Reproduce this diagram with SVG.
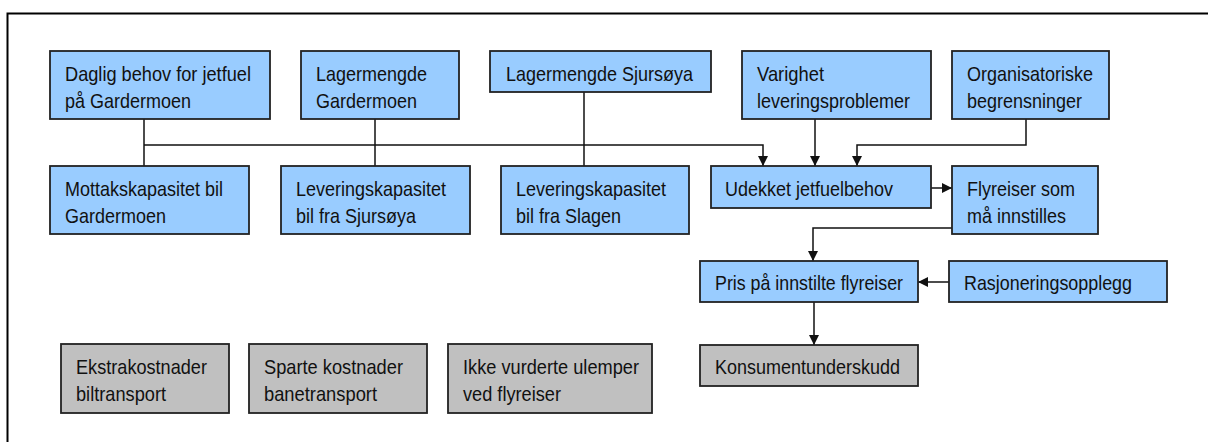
<svg xmlns="http://www.w3.org/2000/svg" width="1208" height="442" viewBox="0 0 1208 442">
<defs>
<style>
.b{fill:#99CCFF;stroke:#222;stroke-width:1.8}
.g{fill:#C0C0C0;stroke:#222;stroke-width:1.8}
text{font-family:"Liberation Sans Narrow","Liberation Sans",Arial,sans-serif;font-size:21px;fill:#111}
.c{fill:none;stroke:#111;stroke-width:1.5}
.a{marker-end:url(#ah)}
</style>
<marker id="ah" markerUnits="userSpaceOnUse" markerWidth="10" markerHeight="10" refX="10" refY="5" orient="auto">
<path d="M0,0 L10,5 L0,10 z" fill="#111"/>
</marker>
</defs>
<rect width="1208" height="442" fill="#fff"/>
<path d="M7.5,442 V13.5 H1208" fill="none" stroke="#000" stroke-width="2"/>
<g id="connectors">
<path class="c" d="M144,119 V166"/>
<path class="c a" d="M144,145 H763 V166"/>
<path class="c" d="M375,119 V166"/>
<path class="c" d="M584,92 V166"/>
<path class="c a" d="M815,119 V166"/>
<path class="c a" d="M1026,119 V145 H857 V166"/>
<path class="c a" d="M931,188 H952"/>
<path class="c a" d="M952,228 H813 V261"/>
<path class="c a" d="M949,282 H918"/>
<path class="c a" d="M814,302 V345"/>
</g>
<g id="n1"><rect class="b" x="50" y="51" width="220" height="68"/><text x="65" y="81" textLength="186" lengthAdjust="spacingAndGlyphs">Daglig behov for jetfuel</text><text x="65" y="108" textLength="126" lengthAdjust="spacingAndGlyphs">på Gardermoen</text></g>
<g id="n2"><rect class="b" x="301" y="51" width="158" height="68"/><text x="316" y="81" textLength="111" lengthAdjust="spacingAndGlyphs">Lagermengde</text><text x="316" y="108" textLength="101" lengthAdjust="spacingAndGlyphs">Gardermoen</text></g>
<g id="n3"><rect class="b" x="490" y="51" width="221" height="41"/><text x="506" y="81" textLength="187" lengthAdjust="spacingAndGlyphs">Lagermengde Sjursøya</text></g>
<g id="n4"><rect class="b" x="742" y="51" width="189" height="68"/><text x="757" y="81" textLength="67" lengthAdjust="spacingAndGlyphs">Varighet</text><text x="757" y="108" textLength="153" lengthAdjust="spacingAndGlyphs">leveringsproblemer</text></g>
<g id="n5"><rect class="b" x="952" y="51" width="157" height="68"/><text x="967" y="81" textLength="126" lengthAdjust="spacingAndGlyphs">Organisatoriske</text><text x="967" y="108" textLength="115" lengthAdjust="spacingAndGlyphs">begrensninger</text></g>
<g id="n6"><rect class="b" x="50" y="166" width="199" height="68"/><text x="65" y="196" textLength="158" lengthAdjust="spacingAndGlyphs">Mottakskapasitet bil</text><text x="65" y="223" textLength="101" lengthAdjust="spacingAndGlyphs">Gardermoen</text></g>
<g id="n7"><rect class="b" x="281" y="166" width="189" height="68"/><text x="296" y="196" textLength="150" lengthAdjust="spacingAndGlyphs">Leveringskapasitet</text><text x="296" y="223" textLength="120" lengthAdjust="spacingAndGlyphs">bil fra Sjursøya</text></g>
<g id="n8"><rect class="b" x="501" y="166" width="188" height="68"/><text x="516" y="196" textLength="150" lengthAdjust="spacingAndGlyphs">Leveringskapasitet</text><text x="516" y="223" textLength="105" lengthAdjust="spacingAndGlyphs">bil fra Slagen</text></g>
<g id="n9"><rect class="b" x="711" y="166" width="220" height="42"/><text x="725" y="196" textLength="168" lengthAdjust="spacingAndGlyphs">Udekket jetfuelbehov</text></g>
<g id="n10"><rect class="b" x="952" y="166" width="146" height="68"/><text x="967" y="196" textLength="108" lengthAdjust="spacingAndGlyphs">Flyreiser som</text><text x="967" y="223" textLength="99" lengthAdjust="spacingAndGlyphs">må innstilles</text></g>
<g id="n11"><rect class="b" x="700" y="261" width="218" height="41"/><text x="715" y="290" textLength="188" lengthAdjust="spacingAndGlyphs">Pris på innstilte flyreiser</text></g>
<g id="n12"><rect class="b" x="949" y="261" width="218" height="41"/><text x="964" y="290" textLength="168" lengthAdjust="spacingAndGlyphs">Rasjoneringsopplegg</text></g>
<g id="n13"><rect class="g" x="700" y="345" width="218" height="41"/><text x="715" y="374" textLength="185" lengthAdjust="spacingAndGlyphs">Konsumentunderskudd</text></g>
<g id="n14"><rect class="g" x="61" y="344" width="168" height="69"/><text x="76" y="374" textLength="131" lengthAdjust="spacingAndGlyphs">Ekstrakostnader</text><text x="76" y="401" textLength="90" lengthAdjust="spacingAndGlyphs">biltransport</text></g>
<g id="n15"><rect class="g" x="249" y="344" width="178" height="69"/><text x="264" y="374" textLength="139" lengthAdjust="spacingAndGlyphs">Sparte kostnader</text><text x="264" y="401" textLength="113" lengthAdjust="spacingAndGlyphs">banetransport</text></g>
<g id="n16"><rect class="g" x="448" y="344" width="204" height="69"/><text x="463" y="374" textLength="176" lengthAdjust="spacingAndGlyphs">Ikke vurderte ulemper</text><text x="463" y="401" textLength="98" lengthAdjust="spacingAndGlyphs">ved flyreiser</text></g>
</svg>
